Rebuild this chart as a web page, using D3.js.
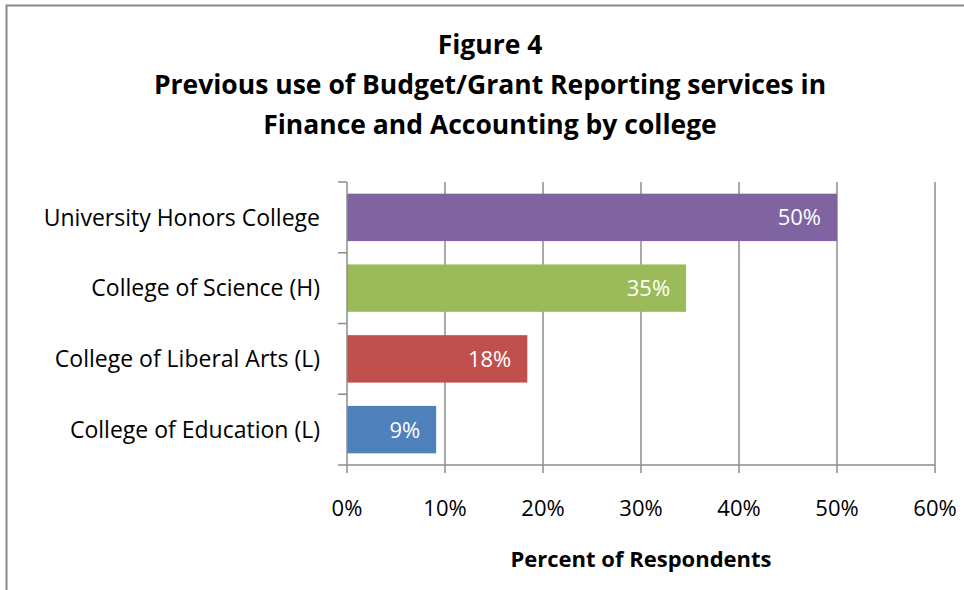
<!DOCTYPE html>
<html>
<head>
<meta charset="utf-8">
<script src="https://cdn.jsdelivr.net/npm/d3@7"></script>
<style>
  html, body { margin: 0; padding: 0; background: #fff; }
  svg { display: block; font-family: "Open Sans", sans-serif; }
</style>
</head>
<body>
<svg id="chart" width="964" height="590"></svg>
<script>
// Colleges, top to bottom, with share of respondents
const colleges = ["University Honors College", "College of Science (H)", "College of Liberal Arts (L)", "College of Education (L)"];
const shares = [0.50, 0.346, 0.184, 0.091];
const barColors = ["#8064A2", "#9BBB59", "#C0504D", "#4F81BD"];
const xTicks = [0, 0.1, 0.2, 0.3, 0.4, 0.5, 0.6];
const titleLines = ["Figure 4", "Previous use of Budget/Grant Reporting services in", "Finance and Accounting by college"];
const axisTitle = "Percent of Respondents";

const svg = d3.select("#chart");
const margin = { left: 347, right: 29, top: 182, bottom: 125 };
const W = 964, H = 590;

// Outer frame
svg.append("path")
  .attr("d", `M6.5,${H + 2} L6.5,5.5 L${W + 2},5.5`)
  .attr("fill", "none").attr("stroke", "#888").attr("stroke-width", 2);

const x = d3.scaleLinear().domain([0, 0.6]).range([margin.left, W - margin.right]);
const y = d3.scaleBand().domain(colleges).range([margin.top, H - margin.bottom]).paddingInner(0.33).paddingOuter(0.165);

const gridColor = "#8c8c8c";

// Vertical gridlines
svg.append("g").selectAll("line").data(xTicks.slice(1)).join("line")
  .attr("x1", d => x(d)).attr("x2", d => x(d))
  .attr("y1", margin.top).attr("y2", H - margin.bottom)
  .attr("stroke", gridColor).attr("stroke-width", 1.5);

// Bars
svg.append("g").selectAll("rect").data(colleges).join("rect")
  .attr("x", x(0))
  .attr("y", d => y(d))
  .attr("width", (d, i) => x(shares[i]) - x(0))
  .attr("height", y.bandwidth())
  .attr("fill", (d, i) => barColors[i]);

// Value labels inside bar ends
const fmt = d3.format(".0%");
svg.append("g").selectAll("text").data(colleges).join("text")
  .attr("x", (d, i) => x(shares[i]) - 16)
  .attr("y", d => y(d) + y.bandwidth() / 2)
  .attr("dy", "0.36em")
  .attr("text-anchor", "end")
  .attr("fill", "#fff")
  .attr("font-size", 22)
  .text((d, i) => fmt(shares[i]));

// Category axis (left)
const yStep = (H - margin.bottom - margin.top) / colleges.length;
const yAxis = svg.append("g");
yAxis.append("line")
  .attr("x1", margin.left).attr("x2", margin.left)
  .attr("y1", margin.top).attr("y2", H - margin.bottom)
  .attr("stroke", gridColor).attr("stroke-width", 1.5);
yAxis.selectAll("line.tick").data(d3.range(colleges.length + 1)).join("line")
  .attr("class", "tick")
  .attr("x1", margin.left - 9).attr("x2", margin.left)
  .attr("y1", i => margin.top + i * yStep).attr("y2", i => margin.top + i * yStep)
  .attr("stroke", gridColor).attr("stroke-width", 1.5);
yAxis.selectAll("text").data(colleges).join("text")
  .attr("x", 320)
  .attr("y", d => y(d) + y.bandwidth() / 2)
  .attr("dy", "0.36em")
  .attr("text-anchor", "end")
  .attr("fill", "#000")
  .attr("font-size", 23)
  .text(d => d);

// Value axis (bottom)
const xAxis = svg.append("g");
xAxis.append("line")
  .attr("x1", x(0)).attr("x2", x(0.6))
  .attr("y1", H - margin.bottom).attr("y2", H - margin.bottom)
  .attr("stroke", gridColor).attr("stroke-width", 1.5);
xAxis.selectAll("line.tick").data(xTicks).join("line")
  .attr("class", "tick")
  .attr("x1", d => x(d)).attr("x2", d => x(d))
  .attr("y1", H - margin.bottom).attr("y2", H - margin.bottom + 8)
  .attr("stroke", gridColor).attr("stroke-width", 1.5);
xAxis.selectAll("text").data(xTicks).join("text")
  .attr("x", d => x(d))
  .attr("y", 516)
  .attr("text-anchor", "middle")
  .attr("fill", "#000")
  .attr("font-size", 22)
  .text(d => d3.format(".0%")(d));

// Axis title
svg.append("text")
  .attr("x", 641).attr("y", 567)
  .attr("text-anchor", "middle")
  .attr("font-weight", "bold")
  .attr("font-size", 22)
  .text(axisTitle);

// Chart title
svg.append("g").selectAll("text").data(titleLines).join("text")
  .attr("x", 490)
  .attr("y", (d, i) => 54 + i * 40)
  .attr("text-anchor", "middle")
  .attr("font-weight", "bold")
  .attr("font-size", 26.5)
  .text(d => d);
</script>
</body>
</html>
